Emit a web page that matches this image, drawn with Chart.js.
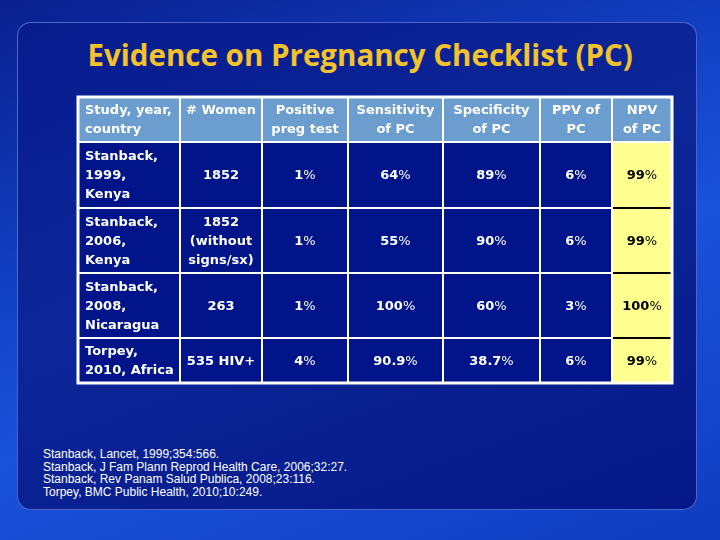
<!DOCTYPE html>
<html>
<head>
<meta charset="utf-8">
<script src="https://cdn.jsdelivr.net/npm/chart.js@4.4.0/dist/chart.umd.min.js"></script>
<style>
html, body { margin: 0; padding: 0; }
body {
  width: 720px; height: 540px; overflow: hidden; position: relative;
  background: linear-gradient(160deg, #0a1f8e 0%, #1242c6 38%, #1a52da 58%, #0f3cc0 100%);
}
#panel {
  position: absolute; left: 17px; top: 22px; width: 678px; height: 486px;
  border-radius: 14px;
  border: 1.5px solid rgba(130, 160, 255, 0.55);
  background: linear-gradient(160deg, #081c8e 0%, #0c2698 45%, #061888 100%);
}
#title {
  position: absolute; left: 0; top: 40px; width: 720px; text-align: center;
  font-family: "Open Sans", sans-serif; font-weight: 700; font-size: 30px;
  line-height: 30px; color: #f4c22a; white-space: nowrap;
}
#title span { display: inline-block; transform-origin: 50% 50%; }
#table { position: absolute; left: 75px; top: 94px; }
#refs {
  position: absolute; left: 43px; top: 448px;
  font-family: "Liberation Sans", Arial, sans-serif; font-size: 12px;
  line-height: 12.7px; color: #ffffff; white-space: nowrap;
}
</style>
</head>
<body>
<div id="panel"></div>
<div id="title"><span>Evidence on Pregnancy Checklist (PC)</span></div>
<canvas id="table" width="600" height="292"></canvas>
<div id="refs"></div>
<script>
// table content
const headers = [["Study, year,", "country"], ["# Women"], ["Positive", "preg test"],
  ["Sensitivity", "of PC"], ["Specificity", "of PC"], ["PPV of", "PC"], ["NPV", "of PC"]];
const studies = [["Stanback,", "1999,", "Kenya"], ["Stanback,", "2006,", "Kenya"],
  ["Stanback,", "2008,", "Nicaragua"], ["Torpey,", "2010, Africa"]];
const women = [["1852"], ["1852", "(without", "signs/sx)"], ["263"], ["535 HIV+"]];
const positivePreg = [1, 1, 1, 4];
const sensitivity = [64, 55, 100, 90.9];
const specificity = [89, 90, 60, 38.7];
const ppv = [6, 6, 3, 6];
const npv = [99, 99, 100, 99];
const references = [
  "Stanback, Lancet, 1999;354:566.",
  "Stanback, J Fam Plann Reprod Health Care, 2006;32:27.",
  "Stanback, Rev Panam Salud Publica, 2008;23:116.",
  "Torpey, BMC Public Health, 2010;10:249."
];

// layout of the grid (widths / heights in table units)
const colWidths = [102, 82, 86, 95, 97, 72, 60];
const rowHeights = [45, 66, 65, 65, 45];

document.getElementById("refs").innerHTML = references.join("<br>");

// squeeze title to the width of the original
const t = document.querySelector("#title span");
t.style.transform = "scaleX(" + (545 / t.offsetWidth) + ")";

function pct(v) { return [v + "%"]; }

const bodyRows = studies.map((s, i) => [s, women[i], pct(positivePreg[i]), pct(sensitivity[i]),
  pct(specificity[i]), pct(ppv[i]), pct(npv[i])]);

function edges(sizes) {
  let acc = 0;
  const out = [0];
  sizes.forEach(s => { acc += s; out.push(acc); });
  return out;
}

const FONT = '"DejaVu Sans", Verdana, sans-serif';

function drawLine(ctx, text, x, y, align) {
  // numbers bold, percent sign normal weight
  let main = text, tail = "";
  if (/^[\d.]+%$/.test(text)) { main = text.slice(0, -1); tail = "%"; }
  ctx.font = "bold 13px " + FONT;
  const w1 = ctx.measureText(main).width;
  ctx.font = "13px " + FONT;
  const w2 = tail ? ctx.measureText(tail).width : 0;
  let x0 = align === "left" ? x : x - (w1 + w2) / 2;
  ctx.textAlign = "left";
  ctx.textBaseline = "middle";
  ctx.font = "bold 13px " + FONT;
  ctx.fillText(main, x0, y);
  if (tail) {
    ctx.font = "13px " + FONT;
    ctx.fillText(tail, x0 + w1, y);
  }
}

const tablePlugin = {
  id: "tableCells",
  afterDraw(chart) {
    const ctx = chart.ctx;
    const xs = chart.scales.x, ys = chart.scales.y;
    const xe = edges(colWidths).map(v => xs.getPixelForValue(v));
    const ye = edges(rowHeights).map(v => ys.getPixelForValue(v));
    const rows = [headers].concat(bodyRows);
    const last = colWidths.length - 1;
    ctx.save();
    // cell fills
    rows.forEach((row, r) => {
      row.forEach((cell, c) => {
        let fill = "#01148a";
        if (r === 0) fill = "#6b9dcf";
        else if (c === last) fill = "#ffff8f";
        ctx.fillStyle = fill;
        ctx.fillRect(xe[c], ye[r], xe[c + 1] - xe[c], ye[r + 1] - ye[r]);
      });
    });
    // grid lines
    ctx.strokeStyle = "#ffffff";
    ctx.lineWidth = 2;
    for (let i = 1; i < xe.length - 1; i++) {
      ctx.beginPath(); ctx.moveTo(xe[i], ye[0]); ctx.lineTo(xe[i], ye[ye.length - 1]); ctx.stroke();
    }
    for (let i = 1; i < ye.length - 1; i++) {
      ctx.beginPath(); ctx.moveTo(xe[0], ye[i]); ctx.lineTo(xe[xe.length - 1], ye[i]); ctx.stroke();
    }
    ctx.strokeStyle = "#000000";
    for (let i = 2; i < ye.length - 1; i++) {
      ctx.beginPath(); ctx.moveTo(xe[last] + 1, ye[i]); ctx.lineTo(xe[last + 1], ye[i]); ctx.stroke();
    }
    ctx.strokeStyle = "#ffffff";
    ctx.lineWidth = 3;
    ctx.strokeRect(xe[0], ye[0], xe[xe.length - 1] - xe[0], ye[ye.length - 1] - ye[0]);
    // text
    const lh = 19;
    rows.forEach((row, r) => {
      row.forEach((lines, c) => {
        ctx.fillStyle = (r > 0 && c === last) ? "#000000" : "#ffffff";
        const align = c === 0 ? "left" : "center";
        const x = c === 0 ? xe[c] + 7 : (xe[c] + xe[c + 1]) / 2;
        let y0;
        if (r === 0) y0 = ye[r] + 14;
        else y0 = (ye[r] + ye[r + 1]) / 2 + 1 - (lines.length - 1) * lh / 2;
        lines.forEach((txt, k) => drawLine(ctx, txt, x, y0 + k * lh, align));
      });
    });
    ctx.restore();
  }
};

const total = a => a.reduce((s, v) => s + v, 0);

new Chart(document.getElementById("table"), {
  type: "scatter",
  data: { datasets: [] },
  options: {
    responsive: false,
    animation: false,
    layout: { padding: 3 },
    plugins: { legend: { display: false }, tooltip: { enabled: false } },
    scales: {
      x: { type: "linear", min: 0, max: total(colWidths), display: false },
      y: { type: "linear", min: 0, max: total(rowHeights), reverse: true, display: false }
    }
  },
  plugins: [tablePlugin]
});
</script>
</body>
</html>
